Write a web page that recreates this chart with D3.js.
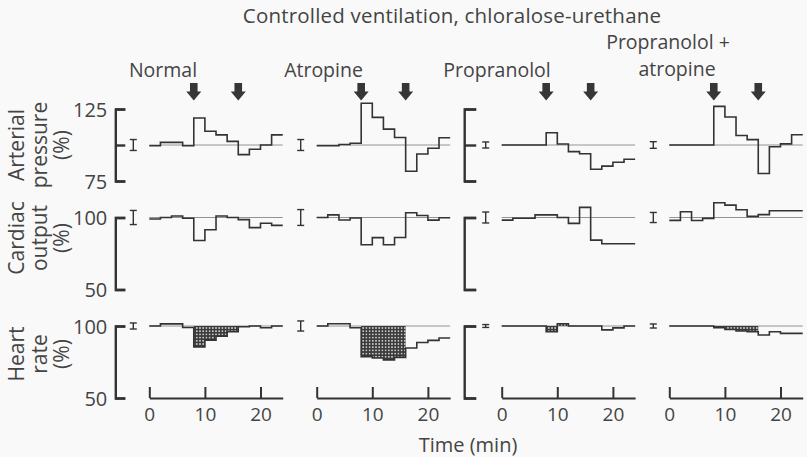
<!DOCTYPE html>
<html>
<head>
<meta charset="utf-8">
<script src="https://cdn.jsdelivr.net/npm/d3@7"></script>
<style>
  html, body { margin: 0; padding: 0; background: #f9f9f9; }
  svg { display: block; }
  text { font-family: "Open Sans", sans-serif; fill: #444; }
</style>
</head>
<body>
<div id="chart"></div>
<script>
// start of each 2-min sampling step (min); last step ends at 24 min
const stepStart = [0, 2, 4, 6, 8, 10, 12, 14, 16, 18, 20, 22];
const timeEnd = 24;
const timeTicks = [0, 10, 20];
const stimTimes = [8, 16];
const hatchWindow = [8, 16];

const treatments = ["Normal", "Atropine", "Propranolol", "Propranolol +|atropine"];

// arterial pressure, % of control
const apNormal      = [99.5, 101.8, 101.8, 99.5, 118.7, 109.5, 107, 102.5, 93.3, 97, 100, 107];
const apAtropine    = [99.5, 99.5, 100.3, 101.2, 129, 119.2, 111, 105.2, 81.8, 93.8, 97.7, 105];
const apPropranolol = [100, 100, 100, 100, 108.5, 100.7, 95.4, 93.9, 83.2, 85.3, 88, 90.1];
const apPropAtrop   = [100, 100, 100, 100, 126.8, 119.4, 106.6, 103.7, 80.2, 98.8, 100.8, 107.1];

// cardiac output, % of control
const coNormal      = [99, 100, 101, 99.5, 84, 91.5, 101, 100, 98.5, 93, 96, 94.5];
const coAtropine    = [100, 101.8, 98.3, 99.7, 81.1, 86, 81.1, 86.1, 103.3, 101.4, 98.2, 99.8];
const coPropranolol = [98.2, 99.5, 99.5, 101.8, 101.8, 100, 95.9, 107, 84.3, 81.8, 81.8, 81.8];
const coPropAtrop   = [98, 104, 97.9, 99.4, 110.2, 108.6, 105.4, 100.8, 102, 104.7, 104.7, 104.7];

// heart rate, % of control
const hrNormal      = [100, 101.5, 101.5, 99, 85.5, 90.2, 93, 96, 99.5, 100, 98.8, 100];
const hrAtropine    = [100, 101.6, 101.6, 98.8, 78.7, 77.8, 76.5, 78.2, 84.7, 88.5, 90, 91.7];
const hrPropranolol = [100, 100, 100, 100, 96, 101.6, 100, 100, 100, 97.3, 98.7, 100];
const hrPropAtrop   = [100, 100, 100, 100, 98.8, 97.6, 96.5, 96, 93.7, 96, 94.9, 94.9];

// control variability (+/- %), one per treatment
const apSem = [3.8, 3.8, 2.1, 2.3];
const coSem = [4.9, 5.5, 3.8, 3.5];
const hrSem = [2.1, 3.5, 1.0, 1.4];

const width = 807, height = 457;
const ink = "#333";
const panelLeft = [149.3, 316.7, 501.7, 669.3];
const minWidth = 5.56;
const axisY = 398;

const rows = [
  { name: ["Arterial", "pressure", "(%)"], series: [apNormal, apAtropine, apPropranolol, apPropAtrop],
    sem: apSem, domain: [75, 125], range: [181, 109], ticks: [75, 100, 125], labelY: 145 },
  { name: ["Cardiac", "output", "(%)"], series: [coNormal, coAtropine, coPropranolol, coPropAtrop],
    sem: coSem, domain: [50, 100], range: [289.5, 217.5], ticks: [50, 100], labelY: 238 },
  { name: ["Heart", "rate", "(%)"], series: [hrNormal, hrAtropine, hrPropranolol, hrPropAtrop],
    sem: hrSem, domain: [50, 100], range: [398, 326], ticks: [50, 100], labelY: 354, hatch: true }
];

const svg = d3.select("#chart").append("svg")
  .attr("width", width)
  .attr("height", height)
  .style("background", "#f9f9f9");

// stippled fill for the fall in heart rate during stimulation
const defs = svg.append("defs");
const pat = defs.append("pattern")
  .attr("id", "stipple")
  .attr("width", 3.2).attr("height", 3.2)
  .attr("patternUnits", "userSpaceOnUse");
pat.append("rect").attr("width", 3.2).attr("height", 3.2).attr("fill", "#3a3a3a");
pat.append("circle").attr("cx", 1.6).attr("cy", 1.6).attr("r", 0.85).attr("fill", "#eee");

svg.append("text")
  .attr("x", 452).attr("y", 23)
  .attr("text-anchor", "middle")
  .attr("font-size", 20.5)
  .attr("letter-spacing", 0.2)
  .text("Controlled ventilation, chloralose-urethane");

// treatment headings
const headX = [163, 323.5, 497, 677];
treatments.forEach((t, p) => {
  const parts = t.split("|");
  if (parts.length === 1) {
    svg.append("text").attr("x", headX[p]).attr("y", 77)
      .attr("text-anchor", "middle").attr("font-size", 19.5).text(t);
  } else {
    svg.append("text").attr("x", headX[p] - 9).attr("y", 49)
      .attr("text-anchor", "middle").attr("font-size", 19.5).text(parts[0]);
    svg.append("text").attr("x", headX[p]).attr("y", 76)
      .attr("text-anchor", "middle").attr("font-size", 19.5).text(parts[1]);
  }
});

// row titles, rotated
const nameX = [24, 47, 69];
rows.forEach(row => {
  row.name.forEach((s, i) => {
    svg.append("text")
      .attr("transform", `translate(${nameX[i]},${row.labelY}) rotate(-90)`)
      .attr("text-anchor", "middle")
      .attr("font-size", 21)
      .text(s);
  });
});

function stepPoints(vals) {
  const pts = stepStart.map((t, i) => [t, vals[i]]);
  pts.push([timeEnd, vals[vals.length - 1]]);
  return pts;
}

panelLeft.forEach((left, p) => {
  const x = d3.scaleLinear().domain([0, timeEnd]).range([left, left + timeEnd * minWidth]);

  rows.forEach((row, r) => {
    const y = d3.scaleLinear().domain(row.domain).range(row.range);
    const vals = row.series[p];
    const g = svg.append("g");

    // scale brackets on the first panel and on the propranolol panel
    if (p === 0 || p === 2) {
      const bx = p === 0 ? left - 34 : left - 37.5;
      const tick = p === 0 ? 10 : 12;
      const ax = d3.axisLeft(y)
        .tickValues(row.ticks)
        .tickSize(-tick)
        .tickSizeOuter(-tick)
        .tickPadding(8)
        .tickFormat(d => (p === 0 && (d !== 100 || r > 0)) ? d : "");
      const ag = g.append("g").attr("transform", `translate(${bx},0)`).call(ax);
      ag.select(".domain").attr("stroke", ink).attr("stroke-width", 2.4).attr("fill", "none");
      ag.selectAll(".tick line").attr("stroke", ink).attr("stroke-width", 2.4);
      ag.selectAll(".tick text")
        .attr("font-size", 20)
        .attr("font-family", "Open Sans, sans-serif")
        .attr("fill", "#444")
        .attr("dy", "0.36em");
    }

    // control level
    g.append("line")
      .attr("x1", x(0)).attr("x2", x(timeEnd))
      .attr("y1", y(100)).attr("y2", y(100))
      .attr("stroke", "#888").attr("stroke-width", 0.9);

    const pts = stepPoints(vals);

    if (row.hatch) {
      const inWin = pts.filter(d => d[0] >= hatchWindow[0] && d[0] < hatchWindow[1]);
      inWin.push([hatchWindow[1], inWin[inWin.length - 1][1]]);
      g.append("path")
        .datum(inWin)
        .attr("d", d3.area().curve(d3.curveStepAfter)
          .x(d => x(d[0])).y0(y(100)).y1(d => y(d[1])))
        .attr("fill", "url(#stipple)");
    }

    g.append("path")
      .datum(pts)
      .attr("d", d3.line().curve(d3.curveStepAfter).x(d => x(d[0])).y(d => y(d[1])))
      .attr("fill", "none")
      .attr("stroke", ink)
      .attr("stroke-width", 1.6);

    // control spread bar
    const ix = left - 16;
    const ib = g.append("g").attr("stroke", ink).attr("stroke-width", 1.4);
    ib.append("line").attr("x1", ix).attr("x2", ix)
      .attr("y1", y(100 - row.sem[p])).attr("y2", y(100 + row.sem[p]));
    [100 - row.sem[p], 100 + row.sem[p]].forEach(v => {
      ib.append("line").attr("x1", ix - 3.5).attr("x2", ix + 3.5)
        .attr("y1", y(v)).attr("y2", y(v));
    });
  });

  // time axis
  const tAxis = d3.axisBottom(x)
    .tickValues(timeTicks)
    .tickSize(-11)
    .tickSizeOuter(0)
    .tickPadding(10);
  const tg = svg.append("g").attr("transform", `translate(0,${axisY})`).call(tAxis);
  tg.select(".domain").attr("stroke", ink).attr("stroke-width", 2.2);
  tg.selectAll(".tick line").attr("stroke", ink).attr("stroke-width", 2);
  tg.selectAll(".tick text")
    .attr("font-size", 19)
    .attr("font-family", "Open Sans, sans-serif")
    .attr("fill", "#444");

  // stimulation arrows
  stimTimes.forEach(t => {
    const cx = x(t);
    svg.append("path")
      .attr("d", `M${cx - 3.8},83 H${cx + 3.8} V91.5 H${cx + 7.5} L${cx},100.5 L${cx - 7.5},91.5 H${cx - 3.8} Z`)
      .attr("fill", "#363636");
  });
});

svg.append("text")
  .attr("x", 468).attr("y", 452)
  .attr("text-anchor", "middle")
  .attr("font-size", 20)
  .text("Time (min)");
</script>
</body>
</html>
